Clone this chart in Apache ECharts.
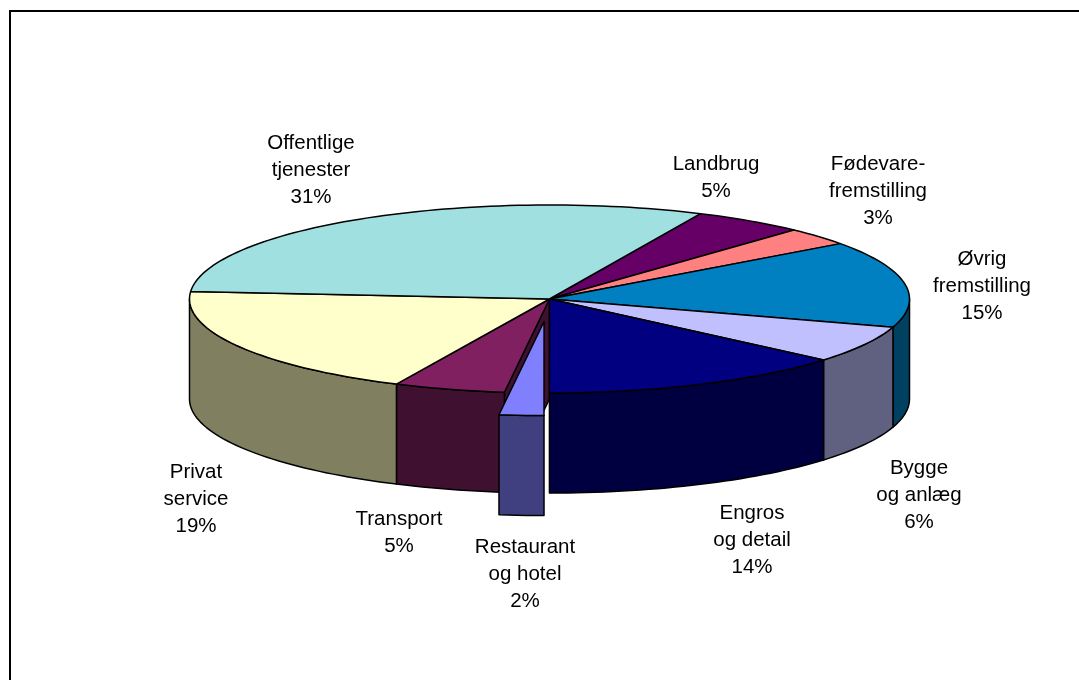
<!DOCTYPE html>
<html>
<head>
<meta charset="utf-8">
<style>html,body{margin:0;padding:0;background:#fff}#c{width:1079px;height:680px}</style>
<script src="https://cdn.jsdelivr.net/npm/echarts@6/dist/echarts.min.js"></script>
</head>
<body>
<div id="c"></div>
<script>
// Data (shares in percent, clockwise from Landbrug)
var categories = [
  'Landbrug', 'Fødevare-\nfremstilling', 'Øvrig\nfremstilling', 'Bygge\nog anlæg',
  'Engros\nog detail', 'Restaurant\nog hotel', 'Transport', 'Privat\nservice', 'Offentlige\ntjenester'
];
var shares = [5.0, 3.1, 14.9, 6.4, 13.8, 2.0, 5.0, 19.3, 30.7];
var percentLabels = ['5%', '3%', '15%', '6%', '14%', '2%', '5%', '19%', '31%'];

// Styling and layout, kept apart from the data
var topColors  = ['#660066', '#FF8080', '#0080C0', '#C0C0FF', '#000080', '#8080FF', '#802060', '#FFFFCC', '#A0E0E0'];
var sideColors = ['#330033', '#804040', '#004060', '#606080', '#000040', '#404080', '#401030', '#808060', '#507070'];
var labelCenters = [[716,177],[878,190],[982,285],[919,494],[752,539],[525,573],[399,532],[196,498],[311,169]];
var exploded = [0, 0, 0, 0, 0, 0.24, 0, 0, 0];
var startDeg = 24.8, CX = 549.5, CY = 299, RX = 360, RY = 94, DEPTH = 100;

function pt(deg, ox, oy, dz) {
  var a = deg * Math.PI / 180;
  return [CX + ox + RX * Math.sin(a), CY + oy - RY * Math.cos(a) + (dz || 0)];
}
function arc(a0, a1, ox, oy, dz) {
  var n = Math.max(2, Math.ceil((a1 - a0) / 1.5)), out = [];
  for (var i = 0; i <= n; i++) out.push(pt(a0 + (a1 - a0) * i / n, ox, oy, dz));
  return out;
}
var total = shares.reduce(function (s, v) { return s + v; }, 0);
var bounds = [startDeg];
shares.forEach(function (v, i) { bounds.push(bounds[i] + v / total * 360); });

var STROKE = { stroke: '#000', lineWidth: 1.5, lineJoin: 'round' };
function poly(points, fill, z2) {
  return {
    type: 'polygon', z2: z2,
    shape: { points: points },
    style: Object.assign({ fill: fill }, STROKE)
  };
}

function renderItem(params, api) {
  var i = params.dataIndex;
  var a0 = bounds[i], a1 = bounds[i + 1], mid = (a0 + a1) / 2 * Math.PI / 180;
  var e = exploded[i];
  var ox = e * RX * Math.sin(mid), oy = -e * RY * Math.cos(mid);
  var base = e ? 30 : 10;
  var kids = [];
  var apex = [CX + ox, CY + oy];

  // outer wall: only the part of the rim that faces the viewer (90..270 degrees)
  var lo = Math.max(a0, 90), hi = Math.min(a1, 270);
  if (hi > lo) {
    var topRim = arc(lo, hi, ox, oy, 0);
    var botRim = arc(lo, hi, ox, oy, DEPTH).reverse();
    kids.push(poly(topRim.concat(botRim), sideColors[i], base));
  }
  // radial wall of the neighbour exposed by the pulled-out slice
  if (exploded[(i + shares.length - 1) % shares.length]) {
    var p = pt(a0, ox, oy, 0), q = pt(a0, ox, oy, DEPTH);
    kids.push(poly([apex, p, q, [apex[0], apex[1] + DEPTH]], sideColors[i], base - 2));
  }
  // top face
  kids.push(poly([apex].concat(arc(a0, a1, ox, oy, 0)), topColors[i], base + 1));
  // label
  kids.push({
    type: 'text', z2: 50,
    x: labelCenters[i][0], y: labelCenters[i][1] + 1,
    style: {
      text: api.value(1) + '\n' + percentLabels[i],
      fontFamily: '"Liberation Sans", Arial, sans-serif',
      fontSize: 20.5, lineHeight: 27, fill: '#000',
      align: 'center', verticalAlign: 'middle'
    }
  });
  return { type: 'group', children: kids };
}

var chart = echarts.init(document.getElementById('c'), null, { renderer: 'canvas' });
chart.setOption({
  animation: false,
  backgroundColor: '#fff',
  graphic: [{
    type: 'polyline', silent: true,
    shape: { points: [[10, 680], [10, 11], [1079, 11]] },
    style: { stroke: '#000', lineWidth: 2, fill: null }
  }],
  series: [{
    type: 'custom',
    coordinateSystem: 'none',
    renderItem: renderItem,
    encode: { value: 0, tooltip: 0 },
    dimensions: ['share', 'name'],
    data: shares.map(function (v, i) { return [v, categories[i]]; })
  }]
});
</script>
</body>
</html>
